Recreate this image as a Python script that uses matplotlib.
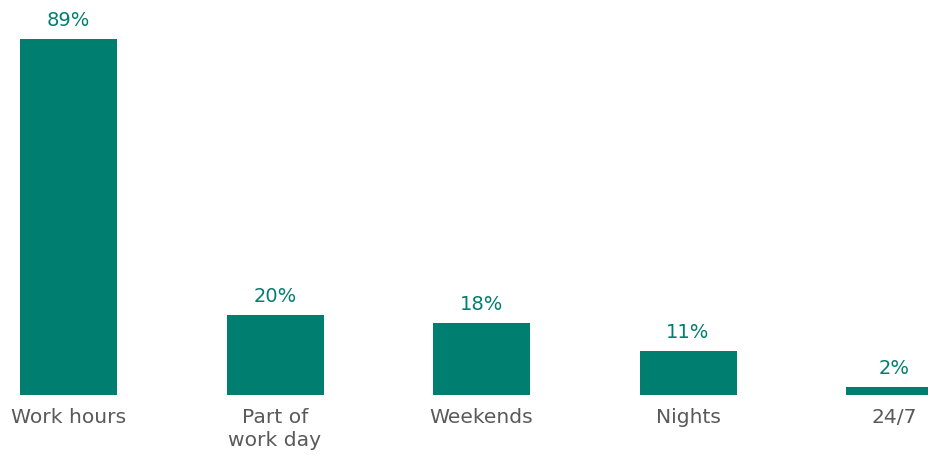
import matplotlib.pyplot as plt

categories = ['Work hours', 'Part of\nwork day', 'Weekends', 'Nights', '24/7']
values = [89, 20, 18, 11, 2]

bar_color = '#007f70'
label_color = '#5a5a5a'

fig = plt.figure(figsize=(9.29, 4.55), dpi=100)
ax = fig.add_axes([0, 0, 1, 1])

x = list(range(len(categories)))
ax.bar(x, values, width=0.47, color=bar_color)

# value labels above each bar
for xi, v in zip(x, values):
    ax.text(xi, v + 4.6, f'{v}%', ha='center', va='center',
            fontsize=14, color=bar_color)

# category names under the baseline
for xi, cat in zip(x, categories):
    ax.text(xi, -3.2, cat, ha='center', va='top', fontsize=14.6,
            color=label_color, linespacing=1.3)

ax.set_xlim(-0.332, 4.167)
ax.set_ylim(-15, 98.75)
ax.axis('off')

fig.savefig('out.png', dpi=100)
